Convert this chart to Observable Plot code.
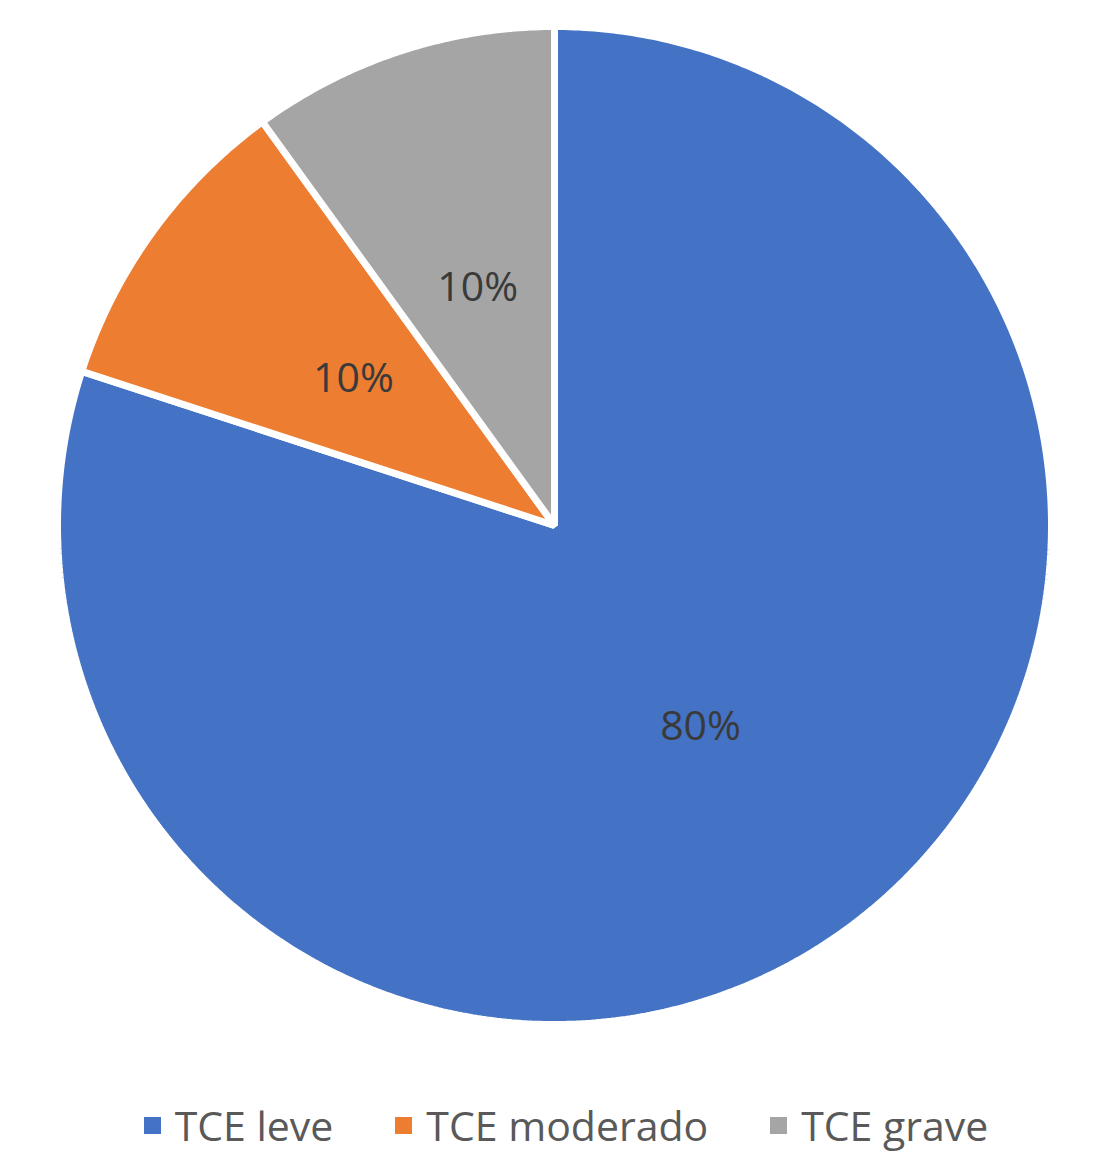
<!DOCTYPE html>
<html>
<head>
<meta charset="utf-8">
<script src="https://cdn.jsdelivr.net/npm/d3@7"></script>
<script src="https://cdn.jsdelivr.net/npm/@observablehq/plot@0.6"></script>
<style>
  body { margin: 0; background: #fff; font-family: "Open Sans", sans-serif; }
  #chart svg { display: block; }
  #legend { display: flex; justify-content: center; align-items: center; height: 60px; margin-top: 35px; padding-left: 36px; font-size: 41px; color: #595959; }
  .item { display: flex; align-items: center; margin: 0 31px; }
  .sw { width: 17px; height: 17px; margin-right: 14px; }
</style>
</head>
<body>
<div id="chart"></div>
<div id="legend"></div>
<script>
const categories = ["TCE leve", "TCE moderado", "TCE grave"];
const values = [80, 10, 10];
const labels = ["80%", "10%", "10%"];
const colors = ["#4472C4", "#ED7D31", "#A5A5A5"];

const total = d3.sum(values);
const points = [];
const labelData = [];
let start = 0;
categories.forEach((cat, i) => {
  const a0 = start / total * 2 * Math.PI;
  const a1 = (start + values[i]) / total * 2 * Math.PI;
  points.push({cat, x: 0, y: 0});
  const n = Math.max(2, Math.ceil((a1 - a0) / 0.01));
  for (let k = 0; k <= n; k++) {
    const a = a0 + (a1 - a0) * k / n;
    points.push({cat, x: Math.sin(a), y: Math.cos(a)});
  }
  const am = (a0 + a1) / 2;
  labelData.push({cat, x: 0.5 * Math.sin(am), y: 0.5 * Math.cos(am), text: labels[i]});
  start += values[i];
});

const chart = Plot.plot({
  width: 1096,
  height: 1060,
  margin: 0,
  x: {domain: [-1, 1], range: [57, 1051], axis: null},
  y: {domain: [-1, 1], range: [1024, 26], axis: null},
  color: {domain: categories, range: colors},
  style: {fontFamily: "Open Sans, sans-serif", background: "#fff"},
  marks: [
    Plot.line(points, {x: "x", y: "y", z: "cat", fill: "cat", stroke: "white", strokeWidth: 7, curve: "linear-closed", strokeLinejoin: "miter"}),
    Plot.text(labelData, {x: "x", y: "y", text: "text", fontSize: 41, fill: "#3a3a3a"})
  ]
});
document.getElementById("chart").appendChild(chart);

const legend = document.getElementById("legend");
categories.forEach((c, i) => {
  const it = document.createElement("div");
  it.className = "item";
  const sw = document.createElement("div");
  sw.className = "sw";
  sw.style.background = colors[i];
  const t = document.createElement("span");
  t.textContent = c;
  it.appendChild(sw); it.appendChild(t);
  legend.appendChild(it);
});
</script>
</body>
</html>
